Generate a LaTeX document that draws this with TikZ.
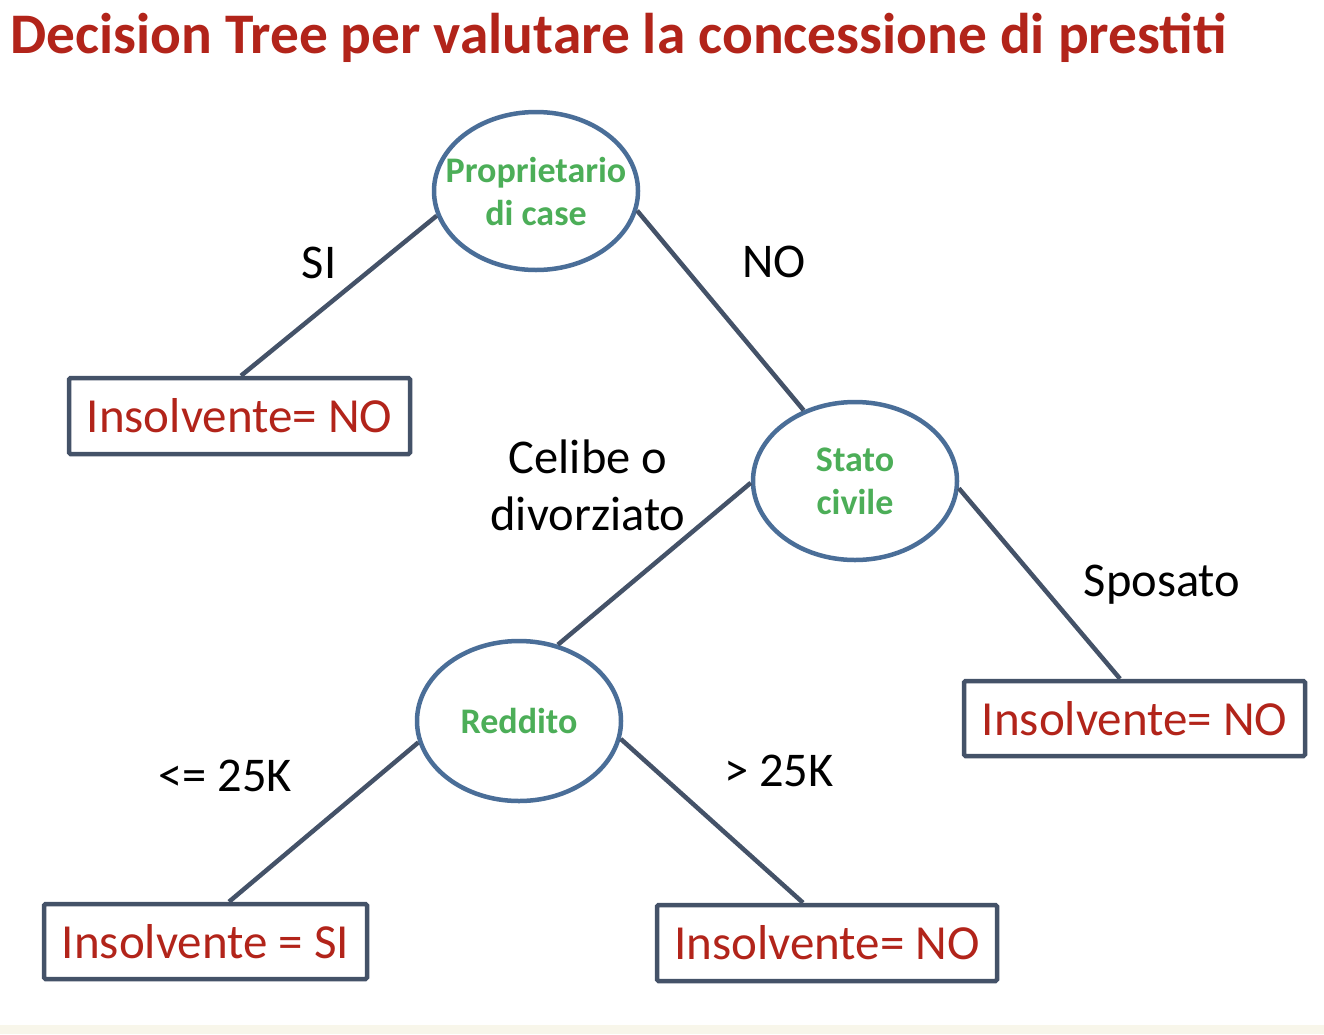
\documentclass[tikz,border=0pt]{standalone}
\usepackage{fontspec}
\setmainfont{Carlito}
\usetikzlibrary{shapes.geometric}
\definecolor{titlered}{RGB}{178,36,26}
\definecolor{nodegreen}{RGB}{76,174,88}
\definecolor{ellblue}{RGB}{74,110,152}
\definecolor{edgegray}{RGB}{68,82,104}
\definecolor{strip}{RGB}{248,246,234}
\tikzset{
  test/.style={ellipse, draw=ellblue, line width=4.5pt, fill=white, minimum width=204pt, minimum height=158pt, inner sep=-30pt, text=nodegreen, font=\fontsize{36}{43}\selectfont\bfseries, align=center},
  leaf/.style={rectangle, draw=edgegray, line width=4.5pt, rounded corners=1.5pt, fill=white, inner sep=0pt, text=titlered, font=\fontsize{49}{58}\selectfont},
  edge/.style={draw=edgegray, line width=4.5pt},
  lbl/.style={font=\fontsize{48.5}{57}\selectfont, text=black, align=center, inner sep=0pt}
}
\begin{document}
\begin{tikzpicture}[x=1pt,y=-1pt]
\useasboundingbox (0,0) rectangle (1324,1034);
\fill[white] (0,0) rectangle (1324,1034);
\fill[strip] (0,1025) rectangle (1324,1034);
\node[anchor=base west, inner sep=0pt, text=titlered, font=\fontsize{57.4}{66}\selectfont\bfseries] (title) at (10,53) {Decision Tree per valutare la concessione di prestiti};
% test nodes
\node[test] (prop) at (536,191) {Proprietario\\di case};
\node[test] (stato) at (855,481) {Stato\\civile};
\node[test, minimum height=160pt] (redd) at (519,721) {Reddito};
% leaves
\node[leaf, minimum width=341pt, minimum height=76pt] (l1) at (239.5,416) {Insolvente= NO};
\node[leaf, minimum width=341pt, minimum height=75pt] (l2) at (1134.5,718.5) {Insolvente= NO};
\node[leaf, minimum width=323pt, minimum height=75pt] (l3) at (205.5,941.5) {Insolvente = SI};
\node[leaf, minimum width=340pt, minimum height=76pt] (l4) at (827,943) {Insolvente= NO};
% edges
\draw[edge] (prop.{194.6}) -- (l1.north -| 241,0);
\draw[edge] (prop.{-11.8}) -- (stato.{126});
\draw[edge] (stato.{181.7}) -- (redd.{63.4});
\draw[edge] (stato.{-4.4}) -- (l2.north -| 1120,0);
\draw[edge] (redd.{192.3}) -- (l3.north -| 229,0);
\draw[edge] (redd.{-10.5}) -- (l4.north -| 803,0);
% labels
\node[lbl] (lsi) at (319,263) {SI};
\node[lbl] (lno) at (774,262) {NO};
\node[lbl] (lcel) at (588,485) {Celibe o\\divorziato};
\node[lbl] (lspo) at (1162,585) {Sposato};
\node[lbl] (lle) at (225,776) {<= 25K};
\node[lbl] (lgt) at (779,771) {> 25K};
\end{tikzpicture}
\end{document}
